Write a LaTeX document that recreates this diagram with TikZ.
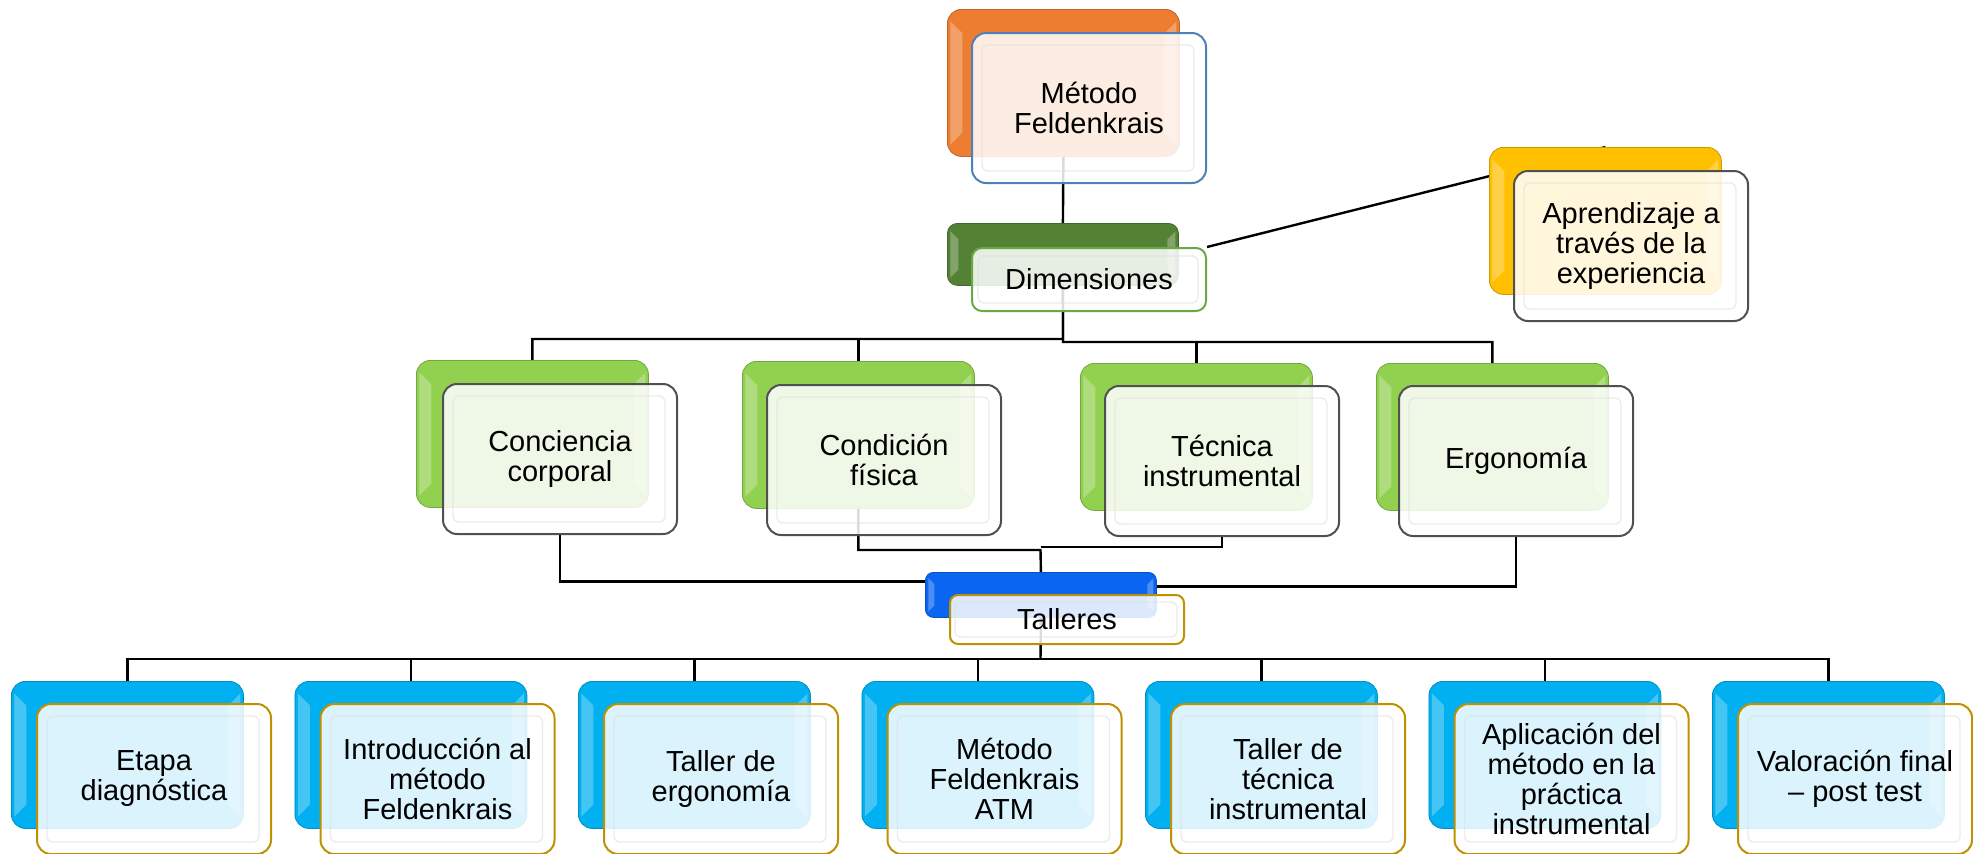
\documentclass[tikz,border=0pt]{standalone}
\usepackage{fontspec}
\setmainfont{Liberation Sans}
\usetikzlibrary{calc}
\pgfdeclarelayer{background}
\pgfsetlayers{background,main}
\definecolor{cOrange}{HTML}{ED7D31}
\definecolor{cDkGreen}{HTML}{548235}
\definecolor{cYellow}{HTML}{FFC000}
\definecolor{cLtGreen}{HTML}{92D050}
\definecolor{cBlue}{HTML}{0A66F0}
\definecolor{cCyan}{HTML}{00B0F0}
\definecolor{bBlue}{HTML}{4F80B8}
\definecolor{bGreen}{HTML}{6AA846}
\definecolor{bGray}{HTML}{505050}
\definecolor{bGold}{HTML}{BF9000}
\begin{document}
\begin{tikzpicture}[x=0.5pt,y=-0.5pt,
  conn/.style={draw=black, line width=1.2pt},
  bk/.style n args={3}{anchor=north west, inner sep=0pt, rounded corners=#2, fill=#1, draw=#1!80!black, line width=0.4pt,
    path picture={
      \fill[#1!55!white, opacity=0.6, sharp corners]
        ([shift={(1.5pt,-#3)}]path picture bounding box.north west) -- ++(#3,-#3)
        -- ([shift={(1.5pt+#3,2*#3)}]path picture bounding box.south west) -- ++(-#3,-#3) -- cycle;
      \fill[#1!55!white, opacity=0.6, sharp corners]
        ([shift={(-1.5pt,-#3)}]path picture bounding box.north east) -- ++(-#3,-#3)
        -- ([shift={(-1.5pt-#3,2*#3)}]path picture bounding box.south east) -- ++(#3,-#3) -- cycle;
    }},
  fr/.style n args={3}{anchor=north west, inner sep=0pt, rounded corners=#2, draw=#1, line width=1pt,
    fill=white, fill opacity=0.86, text opacity=1, align=center, font=\fontsize{14.5}{15}\selectfont,
    path picture={
      \draw[black!12, line width=0.7pt, rounded corners=3pt, opacity=0.6]
        ([shift={(#3,-#3-1pt)}]path picture bounding box.north west) rectangle
        ([shift={(-#3-1pt,#3+1pt)}]path picture bounding box.south east);
    }},
  BB/.style={bk={#1}{7pt}{6pt}, minimum width=116pt, minimum height=73.5pt},
  FB/.style={fr={#1}{7pt}{5pt}, minimum width=117pt, minimum height=75pt},
]
\useasboundingbox (0,0) rectangle (1973,853);

% top
\node[BB=cOrange] (mfB) at (947,9) {};
\node[FB=bBlue] (mfF) at (971,32) {Método\\Feldenkrais};
\node[bk={cDkGreen}{5pt}{4pt}, minimum width=115.5pt, minimum height=31pt] (dmB) at (947,223) {};
\node[fr={bGreen}{5pt}{3pt}, minimum width=117pt, minimum height=31.5pt] (dmF) at (971,247) {Dimensiones};
\node[BB=cYellow] (apB) at (1489,147) {};
\node[FB=bGray] (apF) at (1513,170) {Aprendizaje a\\través de la\\experiencia};

% level 2
\node[BB=cLtGreen] (ccB) at (416,360) {};
\node[FB=bGray] (ccF) at (442,383) {Conciencia\\corporal};
\node[BB=cLtGreen] (cdB) at (742,361) {};
\node[FB=bGray] (cdF) at (766,384) {Condición\\física};
\node[BB=cLtGreen] (tcB) at (1080,363) {};
\node[FB=bGray] (tcF) at (1104,385) {Técnica\\instrumental};
\node[BB=cLtGreen] (erB) at (1376,363) {};
\node[FB=bGray] (erF) at (1398,385) {Ergonomía};

% talleres
\node[bk={cBlue}{4pt}{3pt}, minimum width=115.5pt, minimum height=22.5pt] (tlB) at (925,572) {};
\node[fr={bGold}{4pt}{2.5pt}, minimum width=117pt, minimum height=24.5pt] (tlF) at (949,594) {Talleres};

% level 3
\foreach \i/\t in {0/{Etapa\\diagnóstica},
                   1/{Introducción al\\método\\Feldenkrais},
                   2/{Taller de\\ergonomía},
                   3/{Método\\Feldenkrais\\ATM},
                   4/{Taller de\\técnica\\instrumental},
                   5/{Aplicación del\\método en la\\práctica\\instrumental},
                   6/{Valoración final\\– post test}} {
  \node[BB=cCyan] (lB\i) at ({11+283.5*\i},681) {};
  \node[FB=bGold] (lF\i) at ({36+283.5*\i},703) {\t};
}

\begin{pgfonlayer}{background}
  \coordinate (barL) at (1063,339);
  \coordinate (barR) at (1063,342);
  \coordinate (jC) at (1040.5,550);
  \coordinate (jT) at (1040.5,547);
  \coordinate (bar3) at (1040.5,659);
  \draw[conn] (mfB.south) -- (dmB.north);
  \draw[conn] (dmB.south) -- (barL) -| (ccB.north);
  \draw[conn] (barL) -| (cdB.north);
  \draw[conn] (dmB.south) -- (barR) -| (erB.north);
  \draw[conn] (barR) -| (tcB.north);
  \draw[conn] (dmF.north east) -- (apB.north);
  \draw[conn] (ccF.south) |- ([yshift=6.75pt]tlB.west);
  \draw[conn] (cdB.south) |- (jC) -- (tlB.north);
  \draw[conn] (tcF.south) |- (jT);
  \draw[conn] (erF.south) |- ([yshift=4.25pt]tlB.east);
  \draw[conn] (tlB.south) -- (bar3);
  \foreach \i in {0,...,6} {\draw[conn] (bar3) -| (lB\i.north);}
\end{pgfonlayer}
\end{tikzpicture}
\end{document}
